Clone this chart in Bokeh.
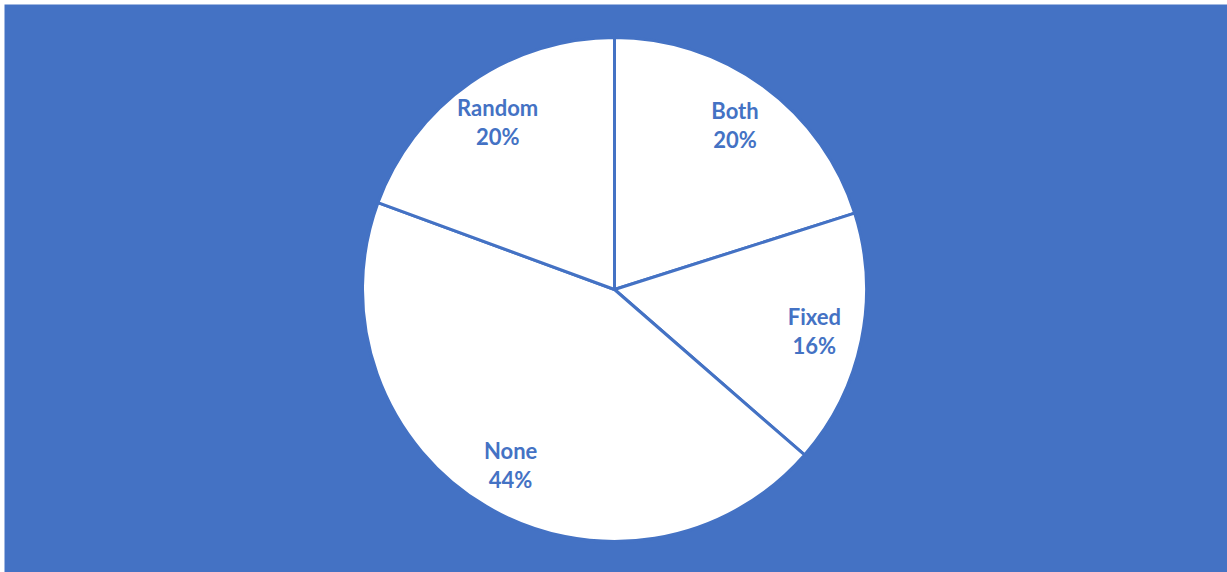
import numpy as np
from bokeh.plotting import figure
from bokeh.models import ColumnDataSource
from bokeh.core.properties import value
from bokeh.embed import file_html
from bokeh.resources import INLINE

categories = ["Both", "Fixed", "None", "Random"]
shares = [20.1, 16.3, 44.2, 19.4]
labels = ["20%", "16%", "44%", "20%"]

BLUE = "#4472C4"
W, H = 1227, 572
FW, FH = W - 4, H - 4

fr = np.array(shares) / sum(shares)
cum = np.concatenate([[0], np.cumsum(fr)])
start_deg = 90 - 360 * cum[:-1]
end_deg = 90 - 360 * cum[1:]
mid = np.deg2rad((start_deg + end_deg) / 2)

cx, cy, R = 610, FH - 285, 252
lr = 0.81 * R
lx = cx + lr * np.cos(mid)
ly = cy + lr * np.sin(mid)

src = ColumnDataSource(dict(
    start=np.deg2rad(start_deg), end=np.deg2rad(end_deg),
    name=categories, pct=labels,
    lx=lx, ly_top=ly + 14.5, ly_bot=ly - 14.5,
))

p = figure(width=W, height=H, x_range=(0, FW), y_range=(0, FH),
           output_backend="svg", toolbar_location=None,
           x_axis_location=None, y_axis_location=None,
           min_border_left=4, min_border_top=4, min_border_right=0, min_border_bottom=0)
p.background_fill_color = BLUE
p.border_fill_color = "white"
p.outline_line_color = None
p.grid.visible = False

p.wedge(x=cx, y=cy, radius=R, radius_units="data",
        start_angle="end", end_angle="start", direction="anticlock",
        fill_color="white", line_color=BLUE, line_width=3, source=src)

for col, txt in (("ly_top", "name"), ("ly_bot", "pct")):
    p.text(x="lx", y=col, text=txt, source=src,
           text_font=value("Lato"), text_font_style="bold",
           text_font_size="22px", text_color=BLUE,
           text_align="center", text_baseline="middle")

open("out.html", "w").write(file_html(p, INLINE))
